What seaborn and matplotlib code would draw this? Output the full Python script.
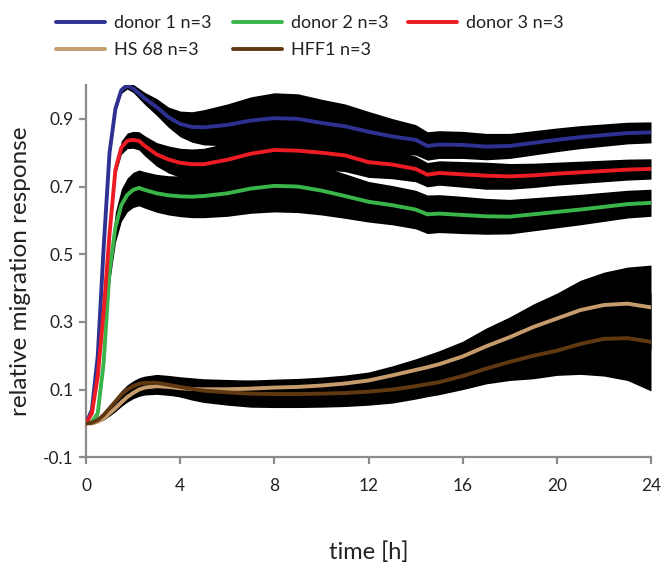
import numpy as np
import pandas as pd
import matplotlib
matplotlib.use("Agg")
import matplotlib.pyplot as plt
import seaborn as sns
from matplotlib.lines import Line2D

# ---- data ----
time_h = [0, 0.25, 0.5, 0.75, 1, 1.25, 1.5, 1.75, 2, 2.25, 2.5, 3, 3.5, 4, 4.5, 5,
          6, 7, 8, 9, 10, 11, 12, 13, 14, 14.5, 15, 16, 17, 18, 19, 20, 21, 22, 23, 24]

donor1 = [0.0, 0.04, 0.20, 0.52, 0.80, 0.93, 0.985, 0.998, 0.99, 0.975, 0.96, 0.935, 0.905,
          0.885, 0.876, 0.875, 0.882, 0.895, 0.902, 0.900, 0.888, 0.878, 0.862, 0.848, 0.838,
          0.820, 0.824, 0.823, 0.818, 0.820, 0.829, 0.838, 0.846, 0.852, 0.858, 0.860]
donor1_err = [0, 0.003, 0.005, 0.008, 0.01, 0.01, 0.01, 0.01, 0.012, 0.015, 0.018, 0.025, 0.03,
              0.038, 0.045, 0.052, 0.062, 0.07, 0.075, 0.074, 0.07, 0.066, 0.06, 0.053, 0.045,
              0.042, 0.041, 0.04, 0.039, 0.037, 0.036, 0.035, 0.034, 0.033, 0.032, 0.031]

donor2 = [0.0, 0.005, 0.03, 0.18, 0.45, 0.58, 0.645, 0.675, 0.69, 0.696, 0.69, 0.68, 0.674,
          0.671, 0.670, 0.672, 0.680, 0.694, 0.702, 0.700, 0.688, 0.672, 0.655, 0.645, 0.632,
          0.618, 0.620, 0.616, 0.612, 0.611, 0.618, 0.625, 0.632, 0.640, 0.648, 0.652]
donor2_err = [0, 0.003, 0.008, 0.02, 0.035, 0.045, 0.048, 0.05, 0.052, 0.053, 0.054, 0.056, 0.058,
              0.06, 0.062, 0.064, 0.068, 0.073, 0.077, 0.077, 0.072, 0.066, 0.06, 0.058, 0.057,
              0.057, 0.056, 0.055, 0.053, 0.051, 0.049, 0.047, 0.045, 0.043, 0.041, 0.04]

donor3 = [0.0, 0.03, 0.14, 0.33, 0.56, 0.75, 0.815, 0.835, 0.838, 0.835, 0.82, 0.795, 0.78,
          0.77, 0.766, 0.766, 0.779, 0.797, 0.808, 0.806, 0.800, 0.792, 0.772, 0.765, 0.752,
          0.735, 0.740, 0.736, 0.732, 0.730, 0.733, 0.738, 0.742, 0.746, 0.750, 0.752]
donor3_err = [0, 0.003, 0.005, 0.008, 0.01, 0.015, 0.02, 0.023, 0.025, 0.027, 0.03, 0.035, 0.04,
              0.043, 0.045, 0.047, 0.05, 0.052, 0.053, 0.052, 0.05, 0.048, 0.045, 0.042, 0.038,
              0.036, 0.036, 0.038, 0.04, 0.038, 0.036, 0.034, 0.033, 0.032, 0.031, 0.03]

hs68 = [0.0, 0.0, 0.005, 0.015, 0.03, 0.045, 0.062, 0.078, 0.09, 0.1, 0.106, 0.11, 0.108,
        0.104, 0.102, 0.101, 0.101, 0.103, 0.106, 0.108, 0.112, 0.118, 0.127, 0.142, 0.158,
        0.166, 0.175, 0.198, 0.228, 0.255, 0.285, 0.310, 0.335, 0.350, 0.354, 0.343]
hs68_err = [0, 0, 0.002, 0.005, 0.008, 0.01, 0.012, 0.015, 0.017, 0.02, 0.022, 0.024, 0.025,
            0.025, 0.025, 0.025, 0.025, 0.025, 0.025, 0.025, 0.025, 0.025, 0.025, 0.028, 0.033,
            0.037, 0.04, 0.045, 0.054, 0.06, 0.068, 0.075, 0.088, 0.097, 0.108, 0.125]

hff1 = [0.0, 0.002, 0.01, 0.025, 0.045, 0.065, 0.085, 0.1, 0.11, 0.117, 0.12, 0.12, 0.114,
        0.108, 0.102, 0.097, 0.092, 0.088, 0.087, 0.087, 0.088, 0.09, 0.094, 0.1, 0.11,
        0.116, 0.122, 0.14, 0.162, 0.182, 0.2, 0.215, 0.235, 0.25, 0.252, 0.241]
hff1_err = [0, 0, 0.002, 0.005, 0.008, 0.01, 0.012, 0.014, 0.016, 0.018, 0.02, 0.025, 0.028,
            0.03, 0.033, 0.035, 0.038, 0.04, 0.04, 0.04, 0.04, 0.04, 0.04, 0.04, 0.038,
            0.037, 0.037, 0.04, 0.045, 0.055, 0.068, 0.073, 0.09, 0.11, 0.125, 0.145]

series_names = ["donor 1 n=3", "donor 2 n=3", "donor 3 n=3", "HS 68 n=3", "HFF1 n=3"]
series_vals = [donor1, donor2, donor3, hs68, hff1]
series_errs = [donor1_err, donor2_err, donor3_err, hs68_err, hff1_err]
series_colors = ["#2E3192", "#39B54A", "#ED1C24", "#C69C6D", "#603913"]

x_ticks = [0, 4, 8, 12, 16, 20, 24]
y_ticks = [-0.1, 0.1, 0.3, 0.5, 0.7, 0.9]

# ---- build long table ----
rows = []
for name, vals, errs in zip(series_names, series_vals, series_errs):
    for t, v, e in zip(time_h, vals, errs):
        rows.append({"time": t, "value": v, "err": e, "series": name})
df = pd.DataFrame(rows)

sns.set_theme(style="white")
plt.rcParams["font.family"] = ["Lato", "DejaVu Sans"]
plt.rcParams["axes.unicode_minus"] = False

fig = plt.figure(figsize=(6.62, 5.64), dpi=100)
ax = fig.add_axes([86 / 662, 106.7 / 564, 565 / 662, 372.3 / 564])

# error bands (black) first
for name in series_names:
    d = df[df["series"] == name]
    ax.fill_between(d["time"], d["value"] - d["err"], d["value"] + d["err"],
                    color="black", linewidth=0, zorder=1)

palette = dict(zip(series_names, series_colors))
sns.lineplot(data=df, x="time", y="value", hue="series", hue_order=series_names,
             palette=palette, linewidth=2.8, ax=ax, legend=False, zorder=3,
             sort=True, estimator=None)

ax.set_xlim(0, 24)
ax.set_ylim(-0.1, 1.0)
ax.set_xticks(x_ticks)
ax.set_yticks(y_ticks)
ax.set_yticklabels([f"{v:.1f}" for v in y_ticks])
ax.set_xticklabels([str(v) for v in x_ticks])

gray = "#8C8C8C"
for s in ["top", "right"]:
    ax.spines[s].set_visible(False)
for s in ["left", "bottom"]:
    ax.spines[s].set_color(gray)
    ax.spines[s].set_linewidth(1.6)
ax.tick_params(axis="both", which="major", direction="out", length=5, width=1.6,
               color=gray, labelsize=12.5, labelcolor="#222222")
ax.tick_params(axis="x", pad=10, bottom=True)
ax.tick_params(axis="y", pad=4, left=True)

ax.set_xlabel("time [h]", fontsize=17, color="#222222")
ax.set_ylabel("relative migration response", fontsize=17.5, color="#222222")
ax.xaxis.set_label_coords(0.5, -0.225)
ax.yaxis.set_label_coords(-0.097, 0.5)

# legend: three columns placed like the reference
handles = {n: Line2D([0], [0], color=c, linewidth=2.8) for n, c in zip(series_names, series_colors)}
columns = [(["donor 1 n=3", "HS 68 n=3"], 56),
           (["donor 2 n=3", "HFF1 n=3"], 233),
           (["donor 3 n=3"], 408)]
for names, xpx in columns:
    leg = fig.legend([handles[n] for n in names], names, loc="upper left",
                     bbox_to_anchor=(xpx / 662, 1 - 15 / 564), frameon=False,
                     fontsize=13, handlelength=2.7, handletextpad=0.5,
                     labelspacing=0.6, borderpad=0, borderaxespad=0)
    for t in leg.get_texts():
        t.set_color("#222222")

fig.savefig("out.png", dpi=100)
